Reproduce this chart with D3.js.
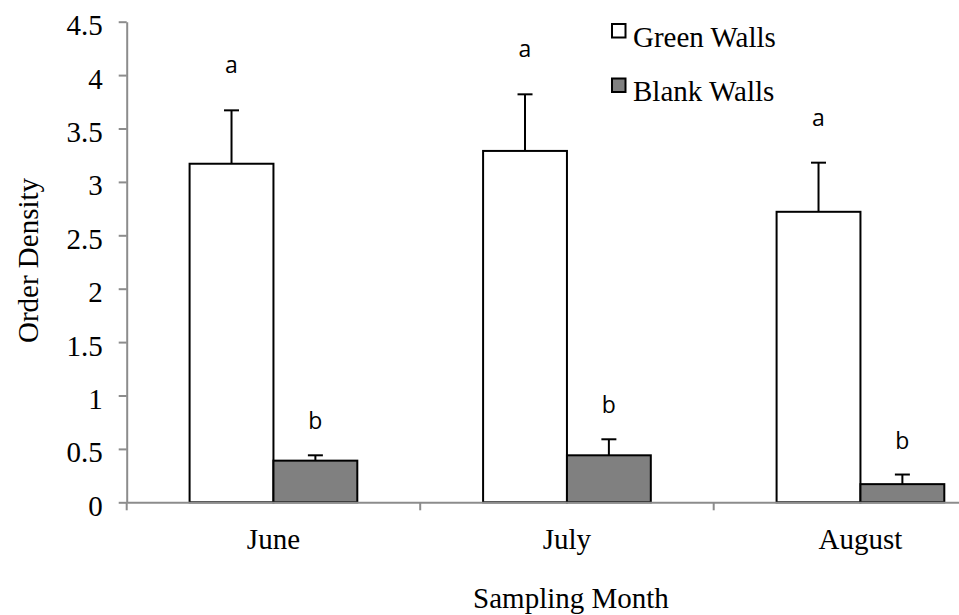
<!DOCTYPE html>
<html>
<head>
<meta charset="utf-8">
<script src="https://cdn.jsdelivr.net/npm/d3@7"></script>
<style>
  html, body { margin: 0; padding: 0; background: #fff; }
  svg { display: block; }
</style>
</head>
<body>
<svg id="chart" width="959" height="615"></svg>
<script>
// Sampling months and the two wall treatments
const months = ["June", "July", "August"];
const seriesNames = ["Green Walls", "Blank Walls"];

// Mean order density per month
const greenMeans = [3.17, 3.29, 2.72];
const blankMeans = [0.39, 0.44, 0.17];

// Upper error bar lengths
const greenErrors = [0.50, 0.53, 0.46];
const blankErrors = [0.05, 0.15, 0.09];

// Significance letters
const greenLetters = ["a", "a", "a"];
const blankLetters = ["b", "b", "b"];

// Y axis ticks
const yTickValues = [0, 0.5, 1, 1.5, 2, 2.5, 3, 3.5, 4, 4.5];
const yTickLabels = ["0", "0.5", "1", "1.5", "2", "2.5", "3", "3.5", "4", "4.5"];

const fills = ["#ffffff", "#808080"];
const axisColor = "#8c8c8c";
const serif = "'Liberation Serif', 'Times New Roman', serif";
const sans = "'Open Sans', 'Noto Sans', sans-serif";
const textSize = "29px";

const svg = d3.select("#chart");

const plotLeft = 126.7, plotRight = 1007.2, plotTop = 21.7, plotBottom = 502.3;

const x0 = d3.scaleBand().domain(months).range([plotLeft, plotRight]).padding(0);
const x1 = d3.scaleBand().domain(seriesNames).range([0, x0.bandwidth()])
  .paddingInner(0).paddingOuter(0.75);
const y = d3.scaleLinear().domain([0, 4.5]).range([plotBottom, plotTop]);

const rows = months.map((m, i) => ({
  month: m,
  values: [
    { series: seriesNames[0], mean: greenMeans[i], err: greenErrors[i], letter: greenLetters[i], fill: fills[0], off: 37 },
    { series: seriesNames[1], mean: blankMeans[i], err: blankErrors[i], letter: blankLetters[i], fill: fills[1], off: 26 }
  ]
}));

// Y axis
const yAxis = svg.append("g")
  .attr("transform", `translate(${plotLeft},0)`)
  .call(d3.axisLeft(y).tickValues(yTickValues)
    .tickFormat((d, i) => yTickLabels[i]).tickSize(8).tickSizeOuter(0));
yAxis.select(".domain").attr("stroke", axisColor).attr("stroke-width", 2);
yAxis.selectAll(".tick line").attr("stroke", axisColor).attr("stroke-width", 2);
yAxis.selectAll(".tick text")
  .attr("x", -24).attr("dy", null).attr("y", 13)
  .attr("fill", "#000").style("font-family", serif).style("font-size", textSize);

// Groups of bars
const groups = svg.append("g").selectAll("g")
  .data(rows).join("g")
  .attr("transform", d => `translate(${x0(d.month)},0)`);

groups.selectAll("rect")
  .data(d => d.values).join("rect")
  .attr("x", d => x1(d.series))
  .attr("y", d => y(d.mean))
  .attr("width", x1.bandwidth())
  .attr("height", d => y(0) - y(d.mean))
  .attr("fill", d => d.fill)
  .attr("stroke", "#000")
  .attr("stroke-width", 2);

// Error bars (upper only)
const eb = groups.selectAll("g.err")
  .data(d => d.values).join("g").attr("class", "err");
eb.append("line")
  .attr("x1", d => x1(d.series) + x1.bandwidth() / 2)
  .attr("x2", d => x1(d.series) + x1.bandwidth() / 2)
  .attr("y1", d => y(d.mean))
  .attr("y2", d => y(d.mean + d.err))
  .attr("stroke", "#000").attr("stroke-width", 2);
eb.append("line")
  .attr("x1", d => x1(d.series) + x1.bandwidth() / 2 - 7.5)
  .attr("x2", d => x1(d.series) + x1.bandwidth() / 2 + 7.5)
  .attr("y1", d => y(d.mean + d.err))
  .attr("y2", d => y(d.mean + d.err))
  .attr("stroke", "#000").attr("stroke-width", 2);

// Significance letters
groups.selectAll("text.letter")
  .data(d => d.values).join("text").attr("class", "letter")
  .attr("x", d => x1(d.series) + x1.bandwidth() / 2)
  .attr("y", d => y(d.mean + d.err) - d.off)
  .attr("text-anchor", "middle")
  .style("font-family", sans).style("font-size", "23px")
  .text(d => d.letter);

// X axis
const xAxis = svg.append("g")
  .attr("transform", `translate(0,${plotBottom})`)
  .call(d3.axisBottom(x0).tickSize(0).tickSizeOuter(0));
xAxis.select(".domain").attr("stroke", axisColor).attr("stroke-width", 2);
xAxis.selectAll(".tick text")
  .attr("y", 47).attr("dy", null)
  .attr("fill", "#000").style("font-family", serif).style("font-size", textSize);

// Category separators below the x axis
svg.append("g").selectAll("line")
  .data(months).join("line")
  .attr("x1", d => x0(d)).attr("x2", d => x0(d))
  .attr("y1", plotBottom).attr("y2", plotBottom + 8)
  .attr("stroke", axisColor).attr("stroke-width", 2);

// Axis titles
svg.append("text")
  .attr("transform", "translate(38,260.5) rotate(-90)")
  .attr("text-anchor", "middle")
  .style("font-family", serif).style("font-size", textSize)
  .text("Order Density");

svg.append("text")
  .attr("x", 571).attr("y", 608)
  .attr("text-anchor", "middle")
  .style("font-family", serif).style("font-size", textSize)
  .text("Sampling Month");

// Legend
const legend = svg.append("g").selectAll("g")
  .data(seriesNames).join("g")
  .attr("transform", (d, i) => `translate(612,${24 + i * 54.5})`);
legend.append("rect")
  .attr("width", 13.5).attr("height", 13.5)
  .attr("fill", (d, i) => fills[i])
  .attr("stroke", "#000").attr("stroke-width", 2);
legend.append("text")
  .attr("x", 21).attr("y", 22.5)
  .style("font-family", serif).style("font-size", textSize)
  .text(d => d);
</script>
</body>
</html>
